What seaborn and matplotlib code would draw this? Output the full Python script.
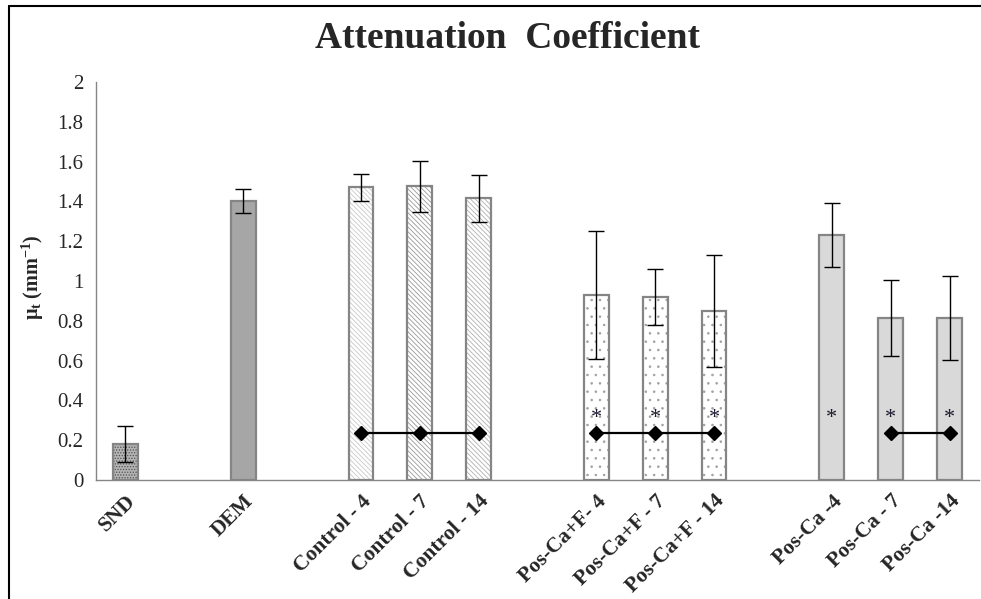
import matplotlib
matplotlib.use('Agg')
import matplotlib.pyplot as plt
import matplotlib.lines as mlines
from matplotlib.patches import Rectangle
import pandas as pd
import seaborn as sns

sns.set_style('white')
plt.rcParams['font.family'] = ['Liberation Serif', 'DejaVu Serif']
plt.rcParams['mathtext.fontset'] = 'custom'
plt.rcParams['mathtext.rm'] = 'Liberation Serif'
plt.rcParams['mathtext.it'] = 'Liberation Serif:italic'
plt.rcParams['mathtext.bf'] = 'Liberation Serif:bold'
plt.rcParams['hatch.linewidth'] = 0.6

# data
groups = ['SND', 'DEM', 'Control - 4', 'Control - 7', 'Control - 14',
          'Pos-Ca+F- 4', 'Pos-Ca+F - 7', 'Pos-Ca+F - 14',
          'Pos-Ca -4', 'Pos-Ca - 7', 'Pos-Ca -14']
means = [0.18, 1.40, 1.47, 1.475, 1.415, 0.93, 0.92, 0.85, 1.23, 0.815, 0.815]
sds = [0.09, 0.06, 0.07, 0.13, 0.12, 0.32, 0.14, 0.28, 0.16, 0.19, 0.21]
# slots on the category axis, blanks keep the gaps between groups
order = ['SND', ' ', 'DEM', '  ', 'Control - 4', 'Control - 7', 'Control - 14', '   ',
         'Pos-Ca+F- 4', 'Pos-Ca+F - 7', 'Pos-Ca+F - 14', '    ',
         'Pos-Ca -4', 'Pos-Ca - 7', 'Pos-Ca -14']
# significance brackets and asterisks
sig_lines = [['Control - 4', 'Control - 7', 'Control - 14'],
             ['Pos-Ca+F- 4', 'Pos-Ca+F - 7', 'Pos-Ca+F - 14'],
             ['Pos-Ca - 7', 'Pos-Ca -14']]
sig_line_y = 0.235
stars = ['Pos-Ca+F- 4', 'Pos-Ca+F - 7', 'Pos-Ca+F - 14', 'Pos-Ca -4', 'Pos-Ca - 7', 'Pos-Ca -14']
star_y = 0.30

# bar styles: (facecolor, hatch, hatch colour)
styles = {
    'SND': ('#b4b4b4', '......', '#505050'),
    'DEM': ('#a6a6a6', '', '#a6a6a6'),
    'Control - 4': ('#ffffff', '\\\\\\\\\\\\\\', '#c8c8c8'),
    'Control - 7': ('#ffffff', '\\\\\\\\\\\\\\', '#999999'),
    'Control - 14': ('#ffffff', '\\\\\\\\\\\\\\', '#b0b0b0'),
    'Pos-Ca+F- 4': ('#ffffff', '..', '#a0a0a0'),
    'Pos-Ca+F - 7': ('#ffffff', '..', '#a0a0a0'),
    'Pos-Ca+F - 14': ('#ffffff', '..', '#a0a0a0'),
    'Pos-Ca -4': ('#d9d9d9', '', '#d9d9d9'),
    'Pos-Ca - 7': ('#d9d9d9', '', '#d9d9d9'),
    'Pos-Ca -14': ('#d9d9d9', '', '#d9d9d9'),
}

df = pd.DataFrame({'group': groups, 'mu': means, 'sd': sds})

fig = plt.figure(figsize=(9.81, 5.99), dpi=100)
ax = fig.add_axes([96 / 981, 1 - 480 / 599, 883 / 981, 398 / 599])

sns.barplot(data=df, x='group', y='mu', order=order, width=0.42, color='#d9d9d9',
            errorbar=None, ax=ax)

for p in list(ax.patches):
    idx = int(round(p.get_x() + p.get_width() / 2))
    name = order[idx]
    fc, hatch, hc = styles[name]
    p.set_facecolor(fc)
    p.set_hatch(hatch)
    p.set_edgecolor(hc)
    p.set_linewidth(0)
    ax.add_patch(Rectangle((p.get_x(), p.get_y()), p.get_width(), p.get_height(),
                           fill=False, edgecolor='#858585', linewidth=1.6, zorder=2.5))

xpos = [order.index(g) for g in groups]
ax.errorbar(xpos, means, yerr=sds, fmt='none', ecolor='black', elinewidth=1,
            capsize=6, capthick=1, zorder=4)

for line in sig_lines:
    xs = [order.index(g) for g in line]
    ax.plot(xs, [sig_line_y] * len(xs), color='black', lw=1.6, marker='D',
            markersize=7, zorder=5)
for g in stars:
    ax.text(order.index(g), star_y + 0.01, '*', ha='center', va='center', fontsize=16,
            color='#1a1a2e', zorder=5)

ax.set_xlim(-0.5, len(order) - 0.5)
ax.set_ylim(0, 2)
ax.set_yticks([i / 5 for i in range(11)])
ax.set_yticklabels(['0', '0.2', '0.4', '0.6', '0.8', '1', '1.2', '1.4', '1.6', '1.8', '2'],
                   fontsize=15)
ax.set_xticks(range(len(order)))
ax.set_xticklabels(order, rotation=45, ha='right', rotation_mode='anchor',
                   fontsize=15.5, fontweight='bold')
ax.set_xticks([i - 0.5 for i in range(len(order) + 1)], minor=True)
ax.tick_params(axis='x', which='major', length=0, pad=8)
ax.tick_params(axis='x', which='minor', length=6, color='#858585', width=1)
ax.tick_params(axis='y', which='major', length=5, color='#858585', width=1, pad=4)
ax.set_xlabel('')
ax.set_ylabel(r'$\mathbf{\mu_t}$ $\mathbf{(mm^{-1})}$', fontsize=14.5, labelpad=8)
ax.yaxis.set_label_coords(-0.057, 0.51)

for s in ['top', 'right']:
    ax.spines[s].set_visible(False)
for s in ['left', 'bottom']:
    ax.spines[s].set_color('#858585')
    ax.spines[s].set_linewidth(1)

fig.text(507 / 981, 1 - 39 / 599, 'Attenuation  Coefficient', ha='center', va='center',
         fontsize=27, fontweight='bold')

# outer frame
fig.add_artist(mlines.Line2D([9 / 981, 9 / 981], [0, 1 - 6 / 599], color='black', lw=1.5))
fig.add_artist(mlines.Line2D([9 / 981, 1], [1 - 6 / 599, 1 - 6 / 599], color='black', lw=1.5))

fig.savefig('out.png', dpi=100, facecolor='white')
